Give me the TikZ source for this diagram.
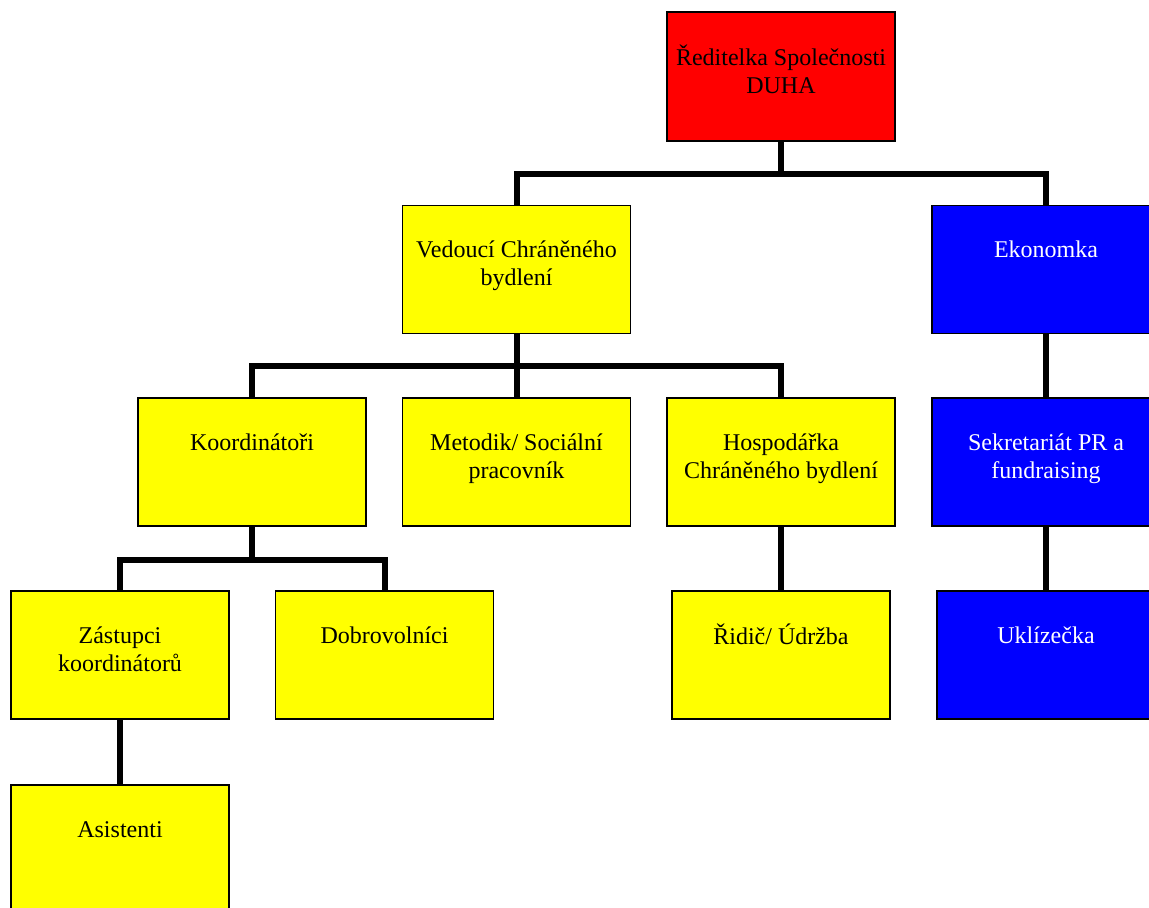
\documentclass[tikz,border=0pt]{standalone}
\usepackage{fontspec}
\setmainfont{Liberation Serif}

\definecolor{chiefred}{RGB}{255,0,0}
\definecolor{unityellow}{RGB}{255,255,0}
\definecolor{econblue}{RGB}{0,0,255}

% text sits in the upper part of each box
\newcommand{\posttext}[1]{\parbox[c][128bp][t]{214bp}{\centering\vspace*{32.4bp}\strut #1}}

\begin{document}
\begin{tikzpicture}[x=1bp, y=-1bp,
        post/.style={draw, line width=1.5bp, inner sep=0pt, minimum width=228bp,
            minimum height=128bp, font=\fontsize{24bp}{28bp}\selectfont},
        narrow/.style={post, minimum width=218bp},
        link/.style={line width=6bp}]
        \useasboundingbox (0,0) rectangle (1149,908);

        \node[post, fill=chiefred, minimum height=129bp] (dir) at (781, 76.5) {\posttext{Ředitelka Společnosti\\DUHA}};
        \node[post, fill=unityellow] (ved) at (516.5, 269.5) {\posttext{Vedoucí Chráněného\\bydlení}};
        \node[post, fill=econblue, text=white] (eko) at (1046, 269.5) {\posttext{Ekonomka}};
        \node[post, fill=unityellow] (koo) at (252, 462) {\posttext{Koordinátoři}};
        \node[post, fill=unityellow] (met) at (516.5, 462) {\posttext{Metodik/ Sociální\\pracovník}};
        \node[post, fill=unityellow] (hos) at (781, 462) {\posttext{Hospodářka\\Chráněného bydlení}};
        \node[post, fill=econblue, text=white] (sek) at (1046, 462) {\posttext{Sekretariát PR a\\fundraising}};
        \node[narrow, fill=unityellow] (zas) at (120, 655) {\posttext{Zástupci\\koordinátorů}};
        \node[narrow, fill=unityellow] (dob) at (384.5, 655) {\posttext{Dobrovolníci}};
        \node[narrow, fill=unityellow] (rid) at (781, 655) {\posttext{Řidič/ Údržba}};
        \node[narrow, fill=econblue, text=white] (ukl) at (1046, 655) {\posttext{Uklízečka}};
        \node[narrow, fill=unityellow] (asi) at (120, 849) {\posttext{Asistenti}};

        \draw[link] (dir.south) -- ++(0,32) -| (ved.north);
        \draw[link] (dir.south) -- ++(0,32) -| (eko.north);
        \draw[link] (ved.south) -- ++(0,32) -| (koo.north);
        \draw[link] (ved.south) -- (met.north);
        \draw[link] (ved.south) -- ++(0,32) -| (hos.north);
        \draw[link] (eko.south) -- (sek.north);
        \draw[link] (sek.south) -- (ukl.north);
        \draw[link] (hos.south) -- (rid.north);
        \draw[link] (koo.south) -- ++(0,33) -| (zas.north);
        \draw[link] (koo.south) -- ++(0,33) -| (dob.north);
        \draw[link] (zas.south) -- (asi.north);
    \end{tikzpicture}
\end{document}
